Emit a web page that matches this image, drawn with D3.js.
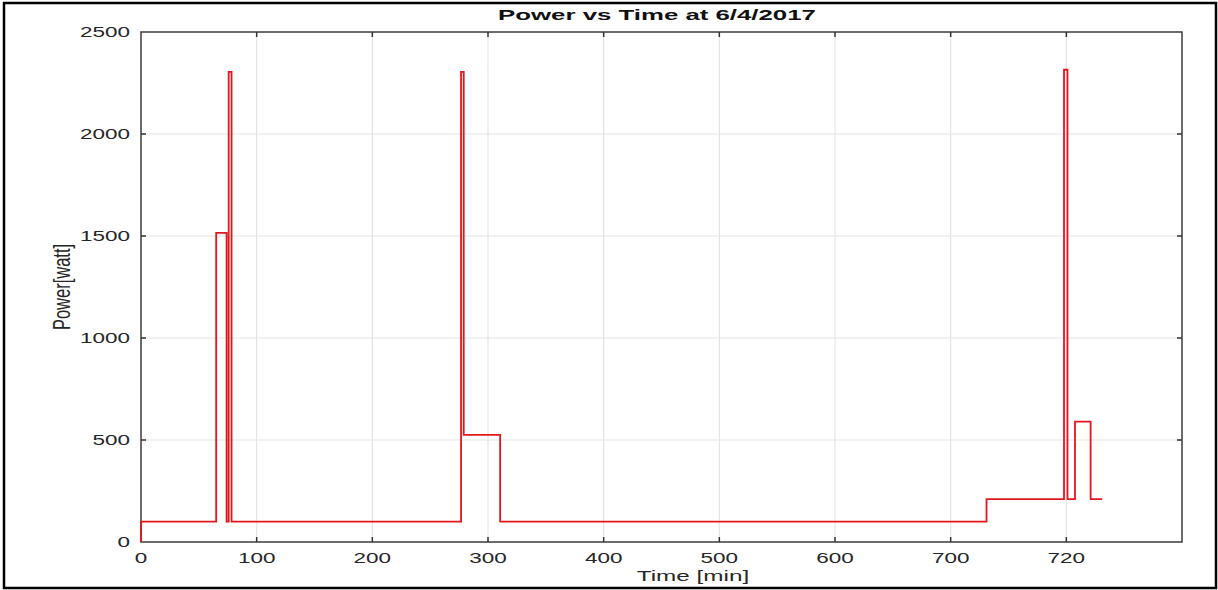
<!DOCTYPE html>
<html>
<head>
<meta charset="utf-8">
<script src="https://cdn.jsdelivr.net/npm/d3@7"></script>
<style>
  body { margin: 0; background: #fff; }
  svg { display: block; font-family: "Liberation Sans", Arial, sans-serif; }
</style>
</head>
<body>
<svg id="mysvg" width="1218" height="590"></svg>
<script>
// step data (minutes, watts)
const timeMin = [0, 0, 65, 74, 75.8, 78.3, 276.7, 279, 310.5, 731, 798, 801, 807.5, 821, 831];
const powerW  = [0, 100, 1515, 100, 2305, 100, 2305, 525, 100, 210, 2315, 210, 590, 210, 210];

const xTicks = [0, 100, 200, 300, 400, 500, 600, 700, 800];
const xTickLabels = ["0", "100", "200", "300", "400", "500", "600", "700", "720"];
const yTicks = [0, 500, 1000, 1500, 2000, 2500];

const titleText = "Power vs Time at 6/4/2017";
const xAxisLabelText = "Time [min]";
const yAxisLabelText = "Power[watt]";

const margin = { top: 32, right: 36, bottom: 48, left: 141 };
const width = 1218, height = 590;

const svg = d3.select("#mysvg");

// outer frame
svg.append("rect")
    .attr("x", 4).attr("y", 3)
    .attr("width", 1212).attr("height", 585)
    .attr("fill", "none")
    .attr("stroke", "#000")
    .attr("stroke-width", 2.5);

const x = d3.scaleLinear()
    .domain([0, 900])
    .range([margin.left, width - margin.right]);

const y = d3.scaleLinear()
    .domain([0, 2500])
    .range([height - margin.bottom, margin.top]);

// the picture is stretched sideways, so text is too
function stretchText(g, px, py, sx, str) {
    return g.append("g")
        .attr("transform", `translate(${px},${py}) scale(${sx},1)`)
        .append("text")
        .text(str);
}

// grid
svg.append("g")
    .selectAll("line")
    .data(xTicks.slice(1))
    .join("line")
      .attr("x1", d => x(d)).attr("x2", d => x(d))
      .attr("y1", y(0)).attr("y2", y(2500))
      .attr("stroke", "#e4e4e4")
      .attr("stroke-width", 1.2);

svg.append("g")
    .selectAll("line")
    .data(yTicks.slice(1, -1))
    .join("line")
      .attr("x1", x(0)).attr("x2", x(900))
      .attr("y1", d => y(d)).attr("y2", d => y(d))
      .attr("stroke", "#e4e4e4")
      .attr("stroke-width", 1.2);

// box
svg.append("rect")
    .attr("x", x(0)).attr("y", y(2500))
    .attr("width", x(900) - x(0))
    .attr("height", y(0) - y(2500))
    .attr("fill", "none")
    .attr("stroke", "#3c3c3c")
    .attr("stroke-width", 1.5);

// inward ticks
const tickG = svg.append("g").attr("stroke", "#333").attr("stroke-width", 1.5);
xTicks.slice(1).forEach(d => {
    tickG.append("line").attr("x1", x(d)).attr("x2", x(d)).attr("y1", y(0)).attr("y2", y(0) - 5);
    tickG.append("line").attr("x1", x(d)).attr("x2", x(d)).attr("y1", y(2500)).attr("y2", y(2500) + 5);
});
yTicks.slice(1, -1).forEach(d => {
    tickG.append("line").attr("x1", x(0)).attr("x2", x(0) + 5).attr("y1", y(d)).attr("y2", y(d));
    tickG.append("line").attr("x1", x(900)).attr("x2", x(900) - 5).attr("y1", y(d)).attr("y2", y(d));
});

// data line, on top of the box like in the original
const line = d3.line()
    .x((d, i) => x(timeMin[i]))
    .y(d => y(d))
    .curve(d3.curveStepAfter);

svg.append("path")
    .datum(powerW)
    .attr("d", line)
    .attr("fill", "none")
    .attr("stroke", "#e3161b")
    .attr("stroke-width", 1.8);

// tick labels
const labG = svg.append("g").attr("font-size", "15px").attr("fill", "#262626");
xTicks.forEach((d, i) => {
    stretchText(labG, x(d), 563, 1.5, xTickLabels[i])
        .attr("text-anchor", "middle");
});
yTicks.forEach(d => {
    stretchText(labG, x(0) - 11, y(d) + 5.3, 1.5, d)
        .attr("text-anchor", "end");
});

// title and axis labels
stretchText(svg, 657, 20, 1.72, titleText)
    .attr("text-anchor", "middle")
    .attr("font-weight", "bold")
    .attr("font-size", "15px")
    .attr("fill", "#111");

stretchText(svg, 693, 581, 1.62, xAxisLabelText)
    .attr("text-anchor", "middle")
    .attr("font-size", "15px")
    .attr("fill", "#262626");

svg.append("g")
    .attr("transform", `translate(70,${(y(0) + y(2500)) / 2}) scale(1.5,1) rotate(-90)`)
    .append("text")
    .attr("text-anchor", "middle")
    .attr("font-size", "16.5px")
    .attr("fill", "#262626")
    .text(yAxisLabelText);
</script>
</body>
</html>
